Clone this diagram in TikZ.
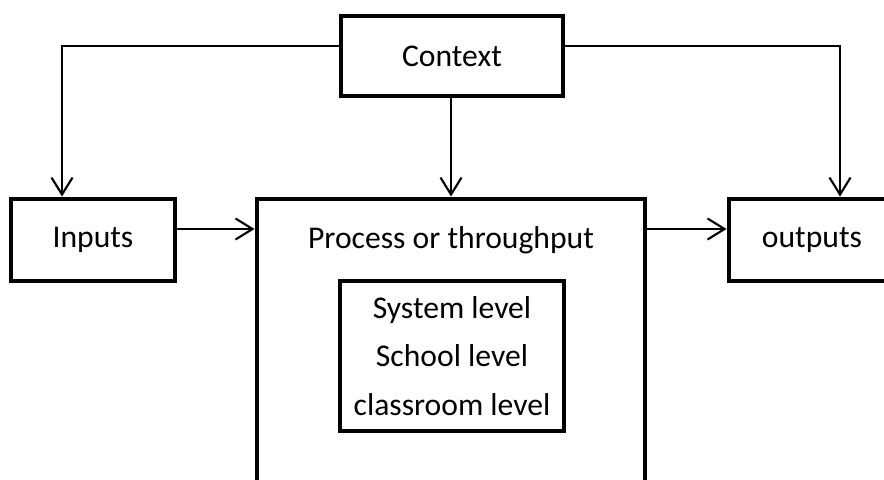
\documentclass[tikz,border=0pt]{standalone}
\usepackage{fontspec}
\setmainfont{Carlito}
\usepackage{tikz}
\usetikzlibrary{arrows.meta,positioning,calc}
\usepackage{xcolor}
\definecolor{sysink}{HTML}{000000}

\begin{document}
\begin{tikzpicture}[
  sysbox/.style={draw=sysink, line width=2.8pt, fill=white, inner sep=0pt,
                 font=\fontsize{18}{27.8}\selectfont, align=center},
  flow/.style={draw=sysink, line width=1.2pt,
               -{Straight Barb[length=3.4mm,width=4.2mm,line width=1.2pt]}}]
\useasboundingbox (0,0) rectangle (17.68,-9.58);
\clip (0,0) rectangle (17.68,-9.58);
% boxes
\node[sysbox, minimum width=4.44cm, minimum height=1.60cm] (ctx) at (9.04,-1.12) {Context};
\node[sysbox, minimum width=3.28cm, minimum height=1.64cm] (inputs) at (1.86,-4.80) {Inputs};
\node[sysbox, minimum width=3.32cm, minimum height=1.64cm] (outputs) at (16.24,-4.80) {outputs};
\node[sysbox, minimum width=7.76cm, minimum height=6.00cm] (process) at (9.02,-6.98) {};
\node[font=\fontsize{18}{27.8}\selectfont] (proctitle) at (9.02,-4.80) {Process or throughput};
\node[sysbox, minimum width=4.48cm, minimum height=3.00cm] (levels) at (9.04,-7.12)
   {System level\\ School level\\ classroom level};
% connectors
\coordinate (ctxrow) at (0,-0.92);
\coordinate (flowrow) at (0,-4.58);
\coordinate (indrop) at (1.24,0);
\coordinate (outdrop) at (16.80,0);
\draw[flow] (ctx.west |- ctxrow) -| (indrop |- inputs.north);
\draw[flow] (ctx.east |- ctxrow) -| (outdrop |- outputs.north);
\draw[flow] (ctx.south -| process.north) -- (process.north);
\draw[flow] (inputs.east |- flowrow) -- (process.west |- flowrow);
\draw[flow] (process.east |- flowrow) -- (outputs.west |- flowrow);
\end{tikzpicture}
\end{document}
